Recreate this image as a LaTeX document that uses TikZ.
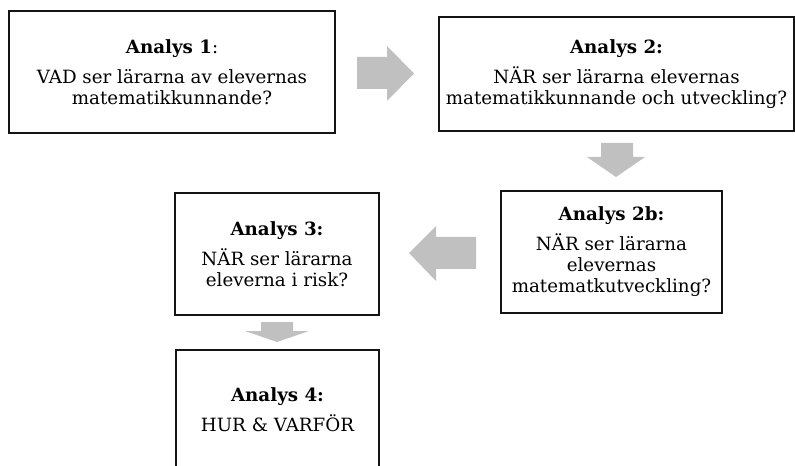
\documentclass[tikz,border=0pt]{standalone}
\usepackage{fontspec}
\setmainfont{DejaVu Serif}
\definecolor{arrowgray}{RGB}{192,192,192}
\definecolor{boxline}{RGB}{20,20,20}
\begin{document}
\begin{tikzpicture}[x=0.75pt,y=-0.75pt,
  box/.style={draw=boxline,line width=0.9pt,rectangle,inner sep=0pt,align=center,
    font=\fontsize{13.7}{15.8}\selectfont},
  blockarrow/.style={fill=arrowgray,draw=none}]
\useasboundingbox (0,0) rectangle (795,466);
\node[box,minimum width=244.5pt,minimum height=91.5pt] (b1) at (172,72)
  {\textbf{Analys 1}:\\[6.5pt]VAD ser lärarna av elevernas\\matematikkunnande?};
\node[box,minimum width=266.25pt,minimum height=85.5pt] (b2) at (616.5,74)
  {\textbf{Analys 2:}\\[6.5pt]NÄR ser lärarna elevernas\\matematikkunnande och utveckling?};
\node[box,minimum width=165.75pt,minimum height=91.5pt] (b2b) at (611.5,252)
  {\textbf{Analys 2b:}\\[6.5pt]NÄR ser lärarna\\elevernas\\matematkutveckling?};
\node[box,minimum width=153pt,minimum height=91.5pt] (b3) at (277,254)
  {\textbf{Analys 3:}\\[6.5pt]NÄR ser lärarna\\eleverna i risk?};
\node[box,minimum width=152.25pt,minimum height=90pt] (b4) at (277.5,410)
  {\textbf{Analys 4:}\\[6.5pt]HUR \& VARFÖR};
% block arrows
\fill[blockarrow] (357,57) -- (387,57) -- (387,46) -- (414,73.5) -- (387,101) -- (387,89) -- (357,89) -- cycle;
\fill[blockarrow] (601,143) -- (633,143) -- (633,157) -- (645,157) -- (616,177) -- (587,157) -- (601,157) -- cycle;
\fill[blockarrow] (476,237) -- (436,237) -- (436,226) -- (409,253) -- (436,281) -- (436,269) -- (476,269) -- cycle;
\fill[blockarrow] (261,322) -- (293,322) -- (293,331) -- (309,331) -- (277,342) -- (245,331) -- (261,331) -- cycle;
\end{tikzpicture}
\end{document}
